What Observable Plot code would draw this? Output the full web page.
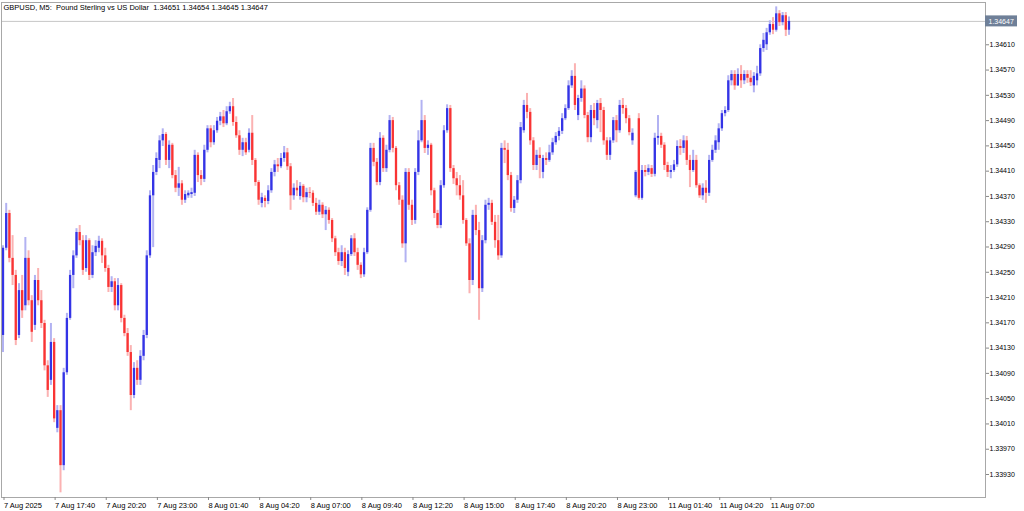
<!DOCTYPE html>
<html><head><meta charset="utf-8">
<script src="https://cdn.jsdelivr.net/npm/d3@7"></script>
<script src="https://cdn.jsdelivr.net/npm/@observablehq/plot@0.6"></script>
<style>html,body{margin:0;padding:0;background:#fff;overflow:hidden}</style>
</head><body><div id="chart"></div>
<script>
// Prices stored as points (1e-5) above 1.30000
const BASE = 1.3, PT = 1e-5;
const opens = [
4150,4288,4343,4272,4245,4150,4221,4197,4272,4205,
4166,4237,4205,4169,4102,4079,4139,4003,4031,3944,
4091,4177,4245,4276,4313,4300,4256,4300,4245,4281,
4288,4299,4276,4256,4226,4235,4197,4229,4177,4153,
4123,4055,4098,4079,4117,4150,4276,4371,4408,4427,
4458,4468,4427,4451,4403,4383,4390,4364,4371,4373,
4375,4435,4403,4397,4443,4477,4455,4474,4489,4496,
4485,4504,4512,4487,4466,4443,4455,4443,4470,4427,
4392,4359,4367,4362,4379,4408,4420,4417,4430,4439,
4417,4371,4383,4370,4386,4368,4376,4375,4359,4345,
4356,4341,4348,4332,4303,4281,4267,4281,4250,4278,
4303,4281,4261,4246,4281,4348,4446,4424,4392,4462,
4414,4443,4490,4446,4387,4364,4295,4408,4356,4332,
4408,4458,4490,4446,4451,4379,4343,4324,4387,4474,
4509,4414,4398,4387,4371,4332,4295,4237,4340,4316,
4224,4300,4356,4359,4329,4300,4276,4446,4443,4403,
4351,4364,4395,4474,4514,4503,4458,4419,4435,4408,
4430,4427,4439,4455,4465,4473,4493,4509,4545,4560,
4498,4525,4540,4498,4463,4506,4490,4517,4506,4458,
4435,4458,4490,4474,4514,4509,4493,4458,4371,4493,
4367,4411,4408,4414,4405,4462,4465,4451,4419,4408,
4411,4420,4449,4446,4458,4427,4411,4427,4387,4371,
4383,4375,4427,4443,4455,4477,4501,4506,4553,4563,
4545,4563,4553,4563,4557,4545,4553,4564,4604,4610,
4629,4642,4633,4659,4645,4656,4633];
const highs = [
4292,4359,4348,4308,4253,4232,4245,4305,4284,4213,
4245,4256,4221,4174,4110,4169,4145,4039,4039,4098,
4185,4253,4284,4319,4324,4308,4308,4303,4292,4300,
4307,4303,4288,4261,4243,4240,4240,4232,4182,4161,
4134,4107,4110,4126,4158,4284,4379,4419,4439,4466,
4477,4471,4458,4454,4411,4416,4395,4379,4379,4383,
4443,4439,4411,4451,4482,4482,4482,4495,4503,4506,
4512,4519,4525,4496,4474,4462,4462,4477,4498,4430,
4395,4375,4371,4387,4414,4427,4430,4438,4449,4446,
4422,4390,4395,4392,4389,4383,4384,4379,4367,4364,
4360,4354,4352,4335,4307,4288,4292,4288,4284,4308,
4311,4288,4265,4288,4352,4454,4454,4430,4471,4466,
4451,4498,4495,4449,4392,4371,4414,4414,4364,4414,
4474,4522,4498,4458,4454,4383,4348,4395,4482,4515,
4514,4419,4408,4403,4395,4335,4303,4348,4356,4329,
4308,4364,4367,4364,4340,4340,4454,4458,4454,4408,
4370,4403,4487,4522,4533,4509,4463,4443,4447,4435,
4439,4451,4462,4471,4479,4501,4515,4553,4569,4580,
4530,4553,4545,4503,4514,4517,4522,4525,4511,4463,
4463,4495,4498,4522,4525,4514,4498,4477,4411,4501,
4419,4419,4420,4419,4470,4498,4470,4455,4424,4419,
4427,4458,4460,4466,4465,4435,4443,4435,4390,4390,
4395,4435,4451,4466,4485,4506,4512,4561,4569,4569,
4572,4577,4569,4569,4569,4566,4576,4610,4628,4636,
4648,4653,4670,4664,4661,4661,4654];
const lows = [
4123,4284,4265,4229,4134,4145,4177,4189,4197,4139,
4158,4197,4161,4094,4052,4071,4012,3996,3901,3936,
4087,4174,4224,4272,4292,4245,4250,4237,4240,4275,
4281,4264,4250,4218,4218,4189,4189,4170,4148,4117,
4031,4050,4071,4071,4110,4145,4272,4289,4403,4414,
4449,4419,4414,4398,4376,4370,4356,4359,4367,4367,
4370,4392,4387,4392,4439,4447,4451,4470,4482,4479,
4482,4500,4481,4462,4435,4433,4435,4439,4419,4386,
4356,4352,4352,4357,4375,4401,4408,4414,4424,4411,
4348,4364,4370,4364,4360,4360,4367,4354,4340,4340,
4335,4316,4326,4297,4275,4261,4259,4245,4243,4275,
4275,4253,4240,4242,4278,4345,4417,4387,4387,4408,
4408,4439,4439,4379,4356,4288,4265,4348,4324,4326,
4403,4455,4438,4435,4371,4335,4319,4319,4383,4470,
4408,4389,4371,4364,4326,4291,4216,4229,4308,4174,
4218,4295,4348,4324,4288,4269,4272,4422,4395,4345,
4343,4359,4390,4470,4493,4451,4411,4411,4398,4398,
4419,4424,4435,4451,4458,4468,4490,4506,4541,4506,
4490,4519,4493,4455,4455,4482,4477,4471,4451,4427,
4427,4454,4455,4470,4500,4485,4466,4451,4368,4364,
4364,4401,4403,4400,4401,4451,4446,4411,4400,4398,
4408,4416,4435,4438,4419,4384,4408,4383,4367,4364,
4359,4370,4424,4438,4443,4473,4496,4503,4545,4538,
4544,4541,4547,4549,4544,4534,4545,4560,4598,4601,
4625,4626,4630,4639,4640,4623,4625];
const closes = [
4288,4343,4272,4245,4142,4221,4189,4272,4205,4155,
4237,4205,4169,4102,4063,4139,4018,4031,3944,4091,
4177,4245,4276,4313,4300,4253,4300,4245,4281,4291,
4299,4276,4256,4226,4235,4197,4229,4177,4153,4123,
4055,4098,4079,4117,4150,4276,4371,4408,4430,4458,
4468,4427,4451,4403,4383,4390,4364,4373,4375,4376,
4435,4403,4397,4443,4477,4455,4474,4489,4496,4485,
4504,4512,4487,4466,4443,4455,4439,4470,4427,4392,
4364,4368,4362,4379,4408,4420,4417,4430,4439,4417,
4371,4383,4379,4386,4368,4376,4375,4359,4345,4356,
4341,4348,4332,4303,4281,4267,4281,4256,4278,4303,
4281,4261,4246,4281,4348,4446,4424,4392,4462,4414,
4443,4490,4446,4387,4364,4295,4408,4356,4332,4408,
4458,4490,4446,4451,4379,4343,4324,4387,4474,4509,
4414,4398,4387,4371,4332,4295,4237,4340,4316,4224,
4300,4356,4359,4329,4300,4276,4446,4443,4403,4351,
4364,4395,4479,4514,4503,4458,4419,4435,4430,4430,
4427,4439,4455,4465,4473,4493,4509,4545,4560,4514,
4525,4540,4498,4463,4506,4493,4517,4506,4458,4435,
4458,4490,4474,4514,4509,4493,4471,4470,4408,4367,
4411,4408,4414,4405,4462,4465,4451,4419,4408,4411,
4420,4449,4446,4458,4427,4411,4427,4387,4371,4383,
4375,4427,4443,4458,4477,4501,4506,4553,4563,4545,
4563,4553,4563,4557,4550,4560,4564,4604,4617,4629,
4642,4633,4659,4645,4656,4633,4647];

const timeTicks = [0,16,32,48,64,80,96,112,128,144,160,176,192,208,224,240];
const timeLabels = ["7 Aug 2025","7 Aug 17:40","7 Aug 20:20","7 Aug 23:00","8 Aug 01:40","8 Aug 04:20",
  "8 Aug 07:00","8 Aug 09:40","8 Aug 12:20","8 Aug 15:00","8 Aug 17:40","8 Aug 20:20","8 Aug 23:00",
  "11 Aug 01:40","11 Aug 04:20","11 Aug 07:00"];
const priceTicks = [1.33930,1.33970,1.34010,1.34050,1.34090,1.34130,1.34170,1.34210,1.34250,
  1.34290,1.34330,1.34370,1.34410,1.34450,1.34490,1.34530,1.34570,1.34610];
const header = "GBPUSD, M5:  Pound Sterling vs US Dollar  1.34651 1.34654 1.34645 1.34647";
const lastPrice = 1.34647;

const bars = opens.map((o, i) => ({
  i, o: BASE + o * PT, h: BASE + highs[i] * PT, l: BASE + lows[i] * PT, c: BASE + closes[i] * PT,
  up: closes[i] >= o
}));

const UP = "#3434e6", DOWN = "#f93434", UPW = "#b2b2f2", DOWNW = "#fbb2b2";

const priceBox = (index, scales, values, dim) => {
  const g = document.createElementNS("http://www.w3.org/2000/svg", "rect");
  const y = scales.y(lastPrice);
  g.setAttribute("x", dim.width - dim.marginRight);
  g.setAttribute("y", y - 5.5);
  g.setAttribute("width", 32);
  g.setAttribute("height", 11);
  g.setAttribute("fill", "#6f8098");
  return g;
};

const chart = Plot.plot({
  width: 1024, height: 511,
  marginLeft: 1, marginRight: 39, marginTop: 2, marginBottom: 14,
  style: {fontFamily: "'Liberation Sans', Arial, sans-serif", fontSize: "7.5px", background: "#fff", color: "#000"},
  x: {domain: [-0.47, 307.5], axis: null, label: null},
  y: {domain: [1.338936, 1.346769], axis: null, label: null},
  marks: [
    Plot.ruleY([lastPrice], {stroke: "#c6c6c6", strokeWidth: 1}),
    Plot.ruleX(bars, {x: "i", y1: "l", y2: "h", stroke: d => d.up ? UPW : DOWNW, strokeWidth: 2}),
    Plot.ruleX(bars, {x: "i", y1: "o", y2: "c", stroke: d => d.up ? UP : DOWN, strokeWidth: 2.3}),
    Plot.frame({stroke: "#a8a8a8"}),
    Plot.axisY(priceTicks, {anchor: "right", label: null, tickSize: 3, tickPadding: 1, tickFormat: d => d.toFixed(5),
      fontSize: 7, stroke: "#888", fill: "#000"}),
    Plot.axisX(timeTicks, {anchor: "bottom", label: null, tickSize: 3, tickPadding: 2, textAnchor: "start", dx: 1,
      tickFormat: (d, i) => timeLabels[i], fontSize: 7.5, stroke: "#888", fill: "#000"}),
    priceBox,
    Plot.text([lastPrice], {y: d => d, text: d => d.toFixed(5), frameAnchor: "right", textAnchor: "start",
      dx: 3, fill: "#fff", fontSize: 7}),
    Plot.text([header], {frameAnchor: "top-left", textAnchor: "start", lineAnchor: "top", dx: 2, dy: 2,
      fill: "#000", fontSize: 7.5})
  ]
});
document.getElementById("chart").appendChild(chart);
</script></body></html>
